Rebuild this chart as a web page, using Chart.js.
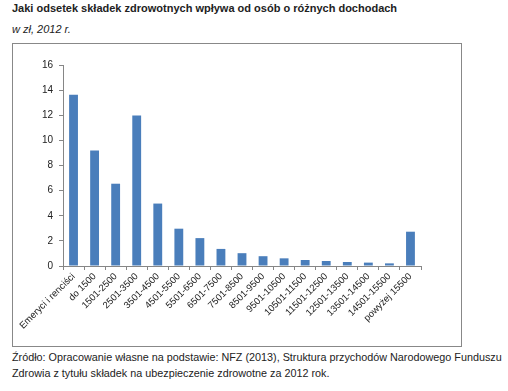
<!DOCTYPE html>
<html>
<head>
<meta charset="utf-8">
<script src="https://cdn.jsdelivr.net/npm/chart.js@4"></script>
<style>
    body { margin: 0; background: #fff; font-family: "Liberation Sans", Arial, sans-serif; color: #222; }
    #page { position: relative; width: 508px; height: 391px; }
    #title { position: absolute; left: 12px; top: 2px; font-size: 11px; font-weight: bold; }
    #subtitle { position: absolute; left: 12px; top: 23px; font-size: 11px; font-style: italic; }
    #frame { position: absolute; left: 12px; top: 43px; width: 448px; height: 302px; border: 1px solid #888; }
    #chart { position: absolute; left: 0; top: 0; }
    #source { position: absolute; left: 12px; top: 349px; font-size: 10.8px; line-height: 16px; }
</style>
</head>
<body>
<div id="page">
    <div id="title">Jaki odsetek składek zdrowotnych wpływa od osób o różnych dochodach</div>
    <div id="subtitle">w zł, 2012 r.</div>
    <div id="frame"><canvas id="chart" width="448" height="302"></canvas></div>
    <div id="source">Źródło: Opracowanie własne na podstawie: NFZ (2013), Struktura przychodów Narodowego Funduszu<br>Zdrowia z tytułu składek na ubezpieczenie zdrowotne za 2012 rok.</div>
</div>
<script>
// Income groups (zł) and share of health contributions (%)
const categories = [
    'Emeryci i renciści', 'do 1500', '1501-2500', '2501-3500', '3501-4500',
    '4501-5500', '5501-6500', '6501-7500', '7501-8500', '8501-9500',
    '9501-10500', '10501-11500', '11501-12500', '12501-13500', '13501-14500',
    '14501-15500', 'powyżej 15500'
];
const shares = [13.64, 9.2, 6.55, 11.98, 4.97, 2.97, 2.22, 1.36, 1.02, 0.78, 0.61, 0.48, 0.4, 0.32, 0.27, 0.21, 2.73];
const yTicks = [0, 2, 4, 6, 8, 10, 12, 14, 16];

const axisColor = '#868686';
const tickFont = { family: '"Liberation Sans", Arial, sans-serif', size: 10 };

const ctx = document.getElementById('chart').getContext('2d');
const chart = new Chart(ctx, {
    type: 'bar',
    data: {
        labels: categories,
        datasets: [{
            data: shares,
            backgroundColor: '#4a7ebb',
            borderWidth: 0,
            barPercentage: 0.42,
            categoryPercentage: 1
        }]
    },
    options: {
        responsive: false,
        animation: false,
        layout: { padding: { top: 21, right: 40, left: 0, bottom: 0 } },
        plugins: {
            legend: { display: false },
            tooltip: { enabled: false }
        },
        scales: {
            x: {
                grid: {
                    offset: true,
                    drawOnChartArea: false,
                    drawTicks: true,
                    tickLength: 4,
                    color: axisColor
                },
                border: { color: axisColor },
                ticks: {
                    autoSkip: false,
                    minRotation: 45,
                    maxRotation: 45,
                    padding: 1,
                    color: '#222',
                    font: { family: tickFont.family, size: 9.5 }
                },
                afterFit: (scale) => { scale.height = 80; }
            },
            y: {
                min: 0,
                max: 16,
                afterBuildTicks: (scale) => { scale.ticks = yTicks.map(v => ({ value: v })); },
                grid: {
                    drawOnChartArea: false,
                    drawTicks: true,
                    tickLength: 4,
                    color: axisColor
                },
                border: { color: axisColor },
                ticks: {
                    padding: 6,
                    color: '#222',
                    font: tickFont
                },
                afterFit: (scale) => { scale.width = 50; }
            }
        }
    }
});
</script>
</body>
</html>
